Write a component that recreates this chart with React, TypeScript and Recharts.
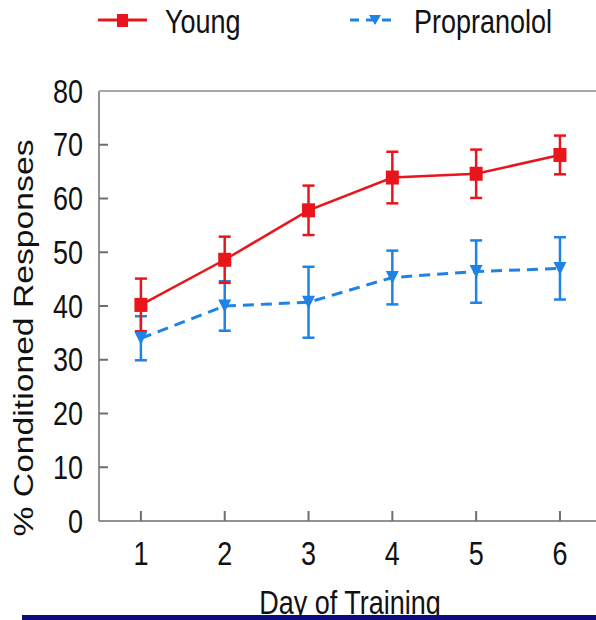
import { LineChart, Line, XAxis, YAxis, ErrorBar } from 'recharts';

const days = [1, 2, 3, 4, 5, 6];
const youngMean = [40.2, 48.6, 57.8, 63.9, 64.6, 68.1];
const youngErr = [4.9, 4.3, 4.6, 4.8, 4.5, 3.6];
const propMean = [34.0, 40.0, 40.7, 45.3, 46.4, 47.0];
const propErr = [4.1, 4.6, 6.6, 5.0, 5.8, 5.8];
const yTicks = [0, 10, 20, 30, 40, 50, 60, 70, 80];

const RED = '#e8161c';
const BLUE = '#1f82e6';
const AXIS = '#6e6e6e';
const FONT = '"Liberation Sans", Arial, sans-serif';

const data = days.map((d, i) => ({
  day: d,
  young: youngMean[i],
  youngErr: youngErr[i],
  prop: propMean[i],
  propErr: propErr[i],
}));

const Square = ({ cx, cy }: any) =>
  cx == null ? null : <rect x={cx - 6.5} y={cy - 7} width={13} height={14} fill={RED} />;

const TriDown = ({ cx, cy }: any) =>
  cx == null ? null : (
    <path d={`M${cx - 6.5},${cy - 6.5} L${cx + 6.5},${cy - 6.5} L${cx},${cy + 6.5} Z`} fill={BLUE} />
  );

// ticks point into the plot, so the tick mark is drawn here with the label
const YTick = ({ x, y, payload }: any) => (
  <g>
    {payload.value !== 0 && payload.value !== 80 && (
      <line x1={x + 16} y1={y} x2={x + 25} y2={y} stroke={AXIS} strokeWidth={2} />
    )}
    <g transform={`translate(${x},${y + 11.5}) scale(1,1.2)`}>
      <text x={0} y={0} textAnchor="end" fontSize={27} fontFamily={FONT} fill="#111">
        {payload.value}
      </text>
    </g>
  </g>
);

const XTick = ({ x, y, payload }: any) => (
  <g>
    <line x1={x} y1={y - 24} x2={x} y2={y - 34} stroke={AXIS} strokeWidth={2} />
    <g transform={`translate(${x},${y + 20}) scale(1,1.2)`}>
      <text x={0} y={0} textAnchor="middle" fontSize={27} fontFamily={FONT} fill="#111">
        {payload.value}
      </text>
    </g>
  </g>
);

const LegendBox = () => (
  <svg width={596} height={50} style={{ position: 'absolute', left: 0, top: 0 }}>
    <line x1={98} y1={20} x2={147} y2={20} stroke={RED} strokeWidth={3} />
    <rect x={117} y={14} width={11} height={13} fill={RED} />
    <g transform="translate(165,33) scale(1,1.2)">
      <text fontSize={27} fontFamily={FONT} fill="#111">Young</text>
    </g>
    <line x1={350} y1={20} x2={397} y2={20} stroke={BLUE} strokeWidth={3} strokeDasharray="9 7" />
    <path d="M369,15 L381,15 L375,25 Z" fill={BLUE} />
    <g transform="translate(414,33) scale(1,1.2)">
      <text fontSize={27} fontFamily={FONT} fill="#111">Propranolol</text>
    </g>
  </svg>
);

export default function App() {
  return (
    <div style={{ position: 'absolute', left: 0, top: 0, width: 596, height: 620, background: '#fff', overflow: 'hidden' }}>
      <LineChart width={596} height={620} data={data} margin={{ top: 91, right: 0, bottom: 39, left: 0 }}>
        <XAxis
          dataKey="day"
          type="number"
          domain={[0.5, 6.43]}
          ticks={days}
          allowDataOverflow
          height={60}
          stroke={AXIS}
          strokeWidth={1.5}
          tickLine={false}
          tickSize={1}
          tickMargin={23}
          tick={<XTick />}
          label={{
            content: () => (
              <g transform="translate(350,614) scale(1,1.2)">
                <text textAnchor="middle" fontSize={27} fontFamily={FONT} fill="#111">Day of Training</text>
              </g>
            ),
          }}
        />
        <YAxis
          type="number"
          domain={[0, 80]}
          ticks={yTicks}
          width={99}
          stroke={AXIS}
          strokeWidth={1.5}
          tickLine={false}
          tickSize={1}
          tickMargin={15}
          tick={<YTick />}
          label={{
            content: () => (
              <text
                transform="translate(33,338) rotate(-90)"
                textAnchor="middle"
                fontSize={27}
                fontFamily={FONT}
                fill="#111"
                textLength={397}
                lengthAdjust="spacingAndGlyphs"
              >
                % Conditioned Responses
              </text>
            ),
          }}
        />
        <Line
          dataKey="prop"
          stroke={BLUE}
          strokeWidth={3}
          strokeDasharray="11 7"
          dot={<TriDown />}
          activeDot={false}
          isAnimationActive={false}
        >
          <ErrorBar dataKey="propErr" direction="y" width={6} stroke={BLUE} strokeWidth={2.5} />
        </Line>
        <Line
          dataKey="young"
          stroke={RED}
          strokeWidth={2.5}
          dot={<Square />}
          activeDot={false}
          isAnimationActive={false}
        >
          <ErrorBar dataKey="youngErr" direction="y" width={6} stroke={RED} strokeWidth={2.5} />
        </Line>
      </LineChart>
      {/* top frame line */}
      <div style={{ position: 'absolute', left: 99, top: 90, width: 497, height: 2, background: '#a8a8a8', zIndex: 2 }} />
      <LegendBox />
      <div style={{ position: 'absolute', left: 22, top: 615, width: 574, height: 5, background: '#0c0c80', zIndex: 2 }} />
    </div>
  );
}
